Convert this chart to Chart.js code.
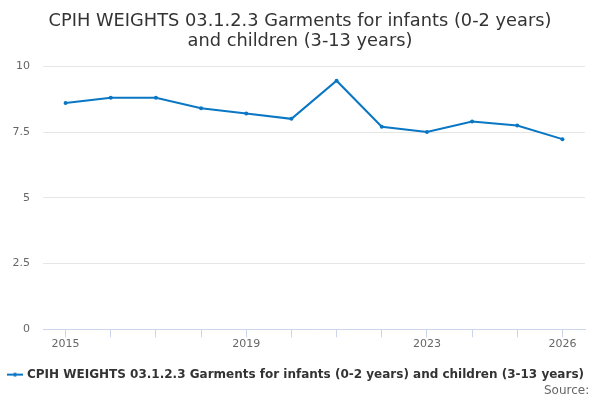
<!DOCTYPE html>
<html>
<head>
<meta charset="utf-8">
<script src="https://cdn.jsdelivr.net/npm/chart.js@4"></script>
<style>
  html, body { margin: 0; padding: 0; background: #fff; }
  #wrap { width: 600px; height: 400px; }
</style>
</head>
<body>
<div id="wrap"><canvas id="weightsChart" width="600" height="400"></canvas></div>
<script>
// data
const years = ['2015', '2016', '2017', '2018', '2019', '2020', '2021', '2022', '2023', '2024', '2025', '2026'];
const weights = [8.6, 8.8, 8.8, 8.4, 8.2, 8.0, 9.45, 7.7, 7.5, 7.9, 7.75, 7.23];
const shownYears = ['2015', '2019', '2023', '2026'];
const yTicks = [0, 2.5, 5, 7.5, 10];

const seriesName = 'CPIH WEIGHTS 03.1.2.3 Garments for infants (0-2 years) and children (3-13 years)';
const lineColour = '#0a77c4';

// legend marker: short line with a dot in the middle
const marker = document.createElement('canvas');
marker.width = 16;
marker.height = 8;
const mctx = marker.getContext('2d');
mctx.strokeStyle = lineColour;
mctx.lineWidth = 2;
mctx.beginPath();
mctx.moveTo(0, 4);
mctx.lineTo(16, 4);
mctx.stroke();
mctx.fillStyle = lineColour;
mctx.beginPath();
mctx.arc(8, 4, 2, 0, Math.PI * 2);
mctx.fill();

const ctx = document.getElementById('weightsChart').getContext('2d');

new Chart(ctx, {
    type: 'line',
    data: {
        labels: years,
        datasets: [{
            label: seriesName,
            data: weights,
            borderColor: lineColour,
            backgroundColor: lineColour,
            borderWidth: 2,
            pointRadius: 2,
            pointBorderWidth: 0,
            pointHoverRadius: 3,
            tension: 0,
            fill: false
        }]
    },
    options: {
        responsive: false,
        animation: false,
        layout: {
            padding: { top: 11, right: 7, bottom: 2, left: 7 }
        },
        plugins: {
            title: {
                display: true,
                text: ['CPIH WEIGHTS 03.1.2.3 Garments for infants (0-2 years)', 'and children (3-13 years)'],
                color: '#333333',
                font: { family: 'DejaVu Sans', size: 17.8, weight: 'normal', lineHeight: 1.13 },
                padding: { top: 0, bottom: 15 }
            },
            legend: {
                position: 'bottom',
                align: 'start',
                labels: {
                    color: '#333333',
                    font: { family: 'DejaVu Sans', size: 12, weight: 'bold' },
                    usePointStyle: true,
                    pointStyle: marker,
                    padding: 2
                }
            },
            subtitle: {
                display: true,
                position: 'bottom',
                align: 'end',
                text: 'Source: ',
                color: '#666666',
                font: { family: 'DejaVu Sans', size: 12, weight: 'normal' },
                padding: { top: -7, bottom: 0 }
            },
            tooltip: { enabled: true }
        },
        scales: {
            x: {
                offset: true,
                afterFit: function(axis) {
                    axis.height += 16;
                },
                grid: {
                    drawOnChartArea: false,
                    drawTicks: true,
                    tickLength: 8,
                    color: '#ccd6eb'
                },
                border: { display: true, color: '#ccd6eb' },
                ticks: {
                    autoSkip: false,
                    maxRotation: 0,
                    color: '#666666',
                    font: { family: 'DejaVu Sans', size: 11 },
                    padding: 0,
                    callback: function(value) {
                        const label = this.getLabelForValue(value);
                        return shownYears.includes(label) ? label : '';
                    }
                }
            },
            y: {
                min: 0,
                max: 10,
                afterBuildTicks: function(axis) {
                    axis.ticks = yTicks.map(v => ({ value: v }));
                },
                afterFit: function(axis) {
                    axis.width = 36;
                },
                grid: {
                    color: '#e6e6e6',
                    drawTicks: false
                },
                border: { display: false },
                ticks: {
                    color: '#666666',
                    font: { family: 'DejaVu Sans', size: 11 },
                    padding: 13
                }
            },
            // empty right-hand axis, only keeps a small gap after the plot
            gap: {
                type: 'linear',
                position: 'right',
                display: true,
                afterFit: function(axis) {
                    axis.width = 8;
                },
                grid: { display: false },
                border: { display: false },
                ticks: { display: false }
            }
        }
    }
});
</script>
</body>
</html>
